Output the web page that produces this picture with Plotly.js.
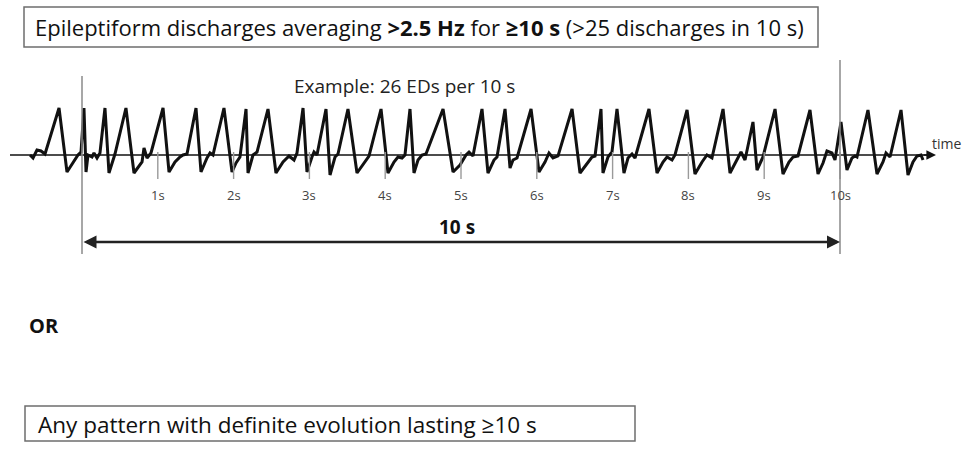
<!DOCTYPE html>
<html>
<head>
<meta charset="utf-8">
<script src="https://cdn.plot.ly/plotly-3.0.1.min.js"></script>
<style>html,body{margin:0;padding:0;background:#fff;}#chart{width:966px;height:452px;}</style>
</head>
<body>
<div id="chart"></div>
<script>
// ---- data (time in seconds, amplitude in arbitrary units above baseline) ----
const waveTime = [
  -0.686,-0.646,-0.594,-0.541,-0.488,-0.303,-0.198,-0.119,-0.053,-0.013,
  0.026,0.053,0.079,0.132,0.158,0.198,0.237,0.303,0.356,0.435,
  0.580,0.686,0.792,0.818,0.858,0.910,1.069,1.148,1.227,1.293,
  1.332,1.385,1.504,1.570,1.649,1.689,1.728,1.873,1.979,2.032,
  2.084,2.164,2.190,2.256,2.309,2.454,2.559,2.652,2.731,2.797,
  2.836,2.916,2.968,3.034,3.061,3.100,3.219,3.272,3.338,3.377,
  3.509,3.628,3.707,3.786,3.945,4.037,4.116,4.169,4.222,4.261,
  4.327,4.380,4.433,4.486,4.538,4.763,4.895,4.987,5.066,5.106,
  5.158,5.277,5.356,5.435,5.475,5.581,5.647,5.686,5.739,5.924,
  6.029,6.108,6.161,6.214,6.280,6.465,6.570,6.649,6.728,6.768,
  6.847,6.873,6.939,6.992,7.058,7.150,7.203,7.256,7.296,7.480,
  7.586,7.665,7.718,7.784,7.823,7.982,8.087,8.180,8.245,8.311,
  8.457,8.549,8.641,8.694,8.747,8.852,8.905,8.984,9.143,9.248,
  9.327,9.380,9.446,9.604,9.710,9.776,9.828,9.894,9.934,10.013,
  10.092,10.158,10.198,10.224,10.369,10.488,10.567,10.607,10.660,10.805,
  10.897,10.963,11.016,11.069,11.095
];
const waveAmp = [
  0,-3,5,4,1,47,-17,-8,0,3,
  47,-17,0,-2,2,-3,2,47,-18,1,
  47,-18,-7,7,-3,2,47,-17,-7,-2,
  0,1,47,-17,-3,2,0,47,-17,-8,
  -2,46,-18,0,3,46,-18,-7,-1,-5,
  2,47,-17,-2,3,0,46,-20,-2,1,
  46,-18,-10,-1,46,-18,-7,-2,-3,0,
  46,-18,-5,0,1,46,-17,-10,0,3,
  -1,46,-18,-5,-2,46,-13,-5,-3,46,
  -17,-7,2,-3,-1,46,-18,-10,-2,-1,
  46,-18,-2,3,46,-18,-3,1,-3,46,
  -18,-7,-2,-5,0,45,-19,-7,0,-3,
  46,-18,-5,3,-5,33,-15,-2,46,-19,
  -7,-2,-1,45,-19,-8,4,2,-5,33,
  -15,-3,-1,-2,45,-19,-7,2,-2,45,
  -20,-7,-1,0,-5
];
const tickSeconds = [1,2,3,4,5,6,7,8,9,10];
const tickLabels = ["1s","2s","3s","4s","5s","6s","7s","8s","9s","10s"];
const windowStart = 0;      // s
const windowEnd = 10;       // s
const windowLabel = "10 s";
const exampleText = "Example: 26 EDs per 10 s";
const criterion1 = "Epileptiform discharges averaging <b>>2.5 Hz</b> for <b>≥10 s</b> (>25 discharges in 10 s)";
const orText = "<b>OR</b>";
const criterion2 = "Any pattern with definite evolution lasting ≥10 s";
const axisLabel = "time";

// ---- layout helpers (pixel geometry of the figure) ----
const W = 966, H = 452;
const PX0 = 82, PXS = 75.8, BASE = 155;   // pixel of t=0, px per second, baseline pixel
const tx = px => (px - PX0) / PXS;          // pixel -> seconds
const ay = py => BASE - py;                 // pixel -> amplitude
const pxp = px => px / W, pyp = py => 1 - py / H;
const FONT = "'Open Sans', Lato, sans-serif";

const traces = [{
  x: waveTime, y: waveAmp, type: "scatter", mode: "lines",
  line: {color: "#111", width: 3}, hoverinfo: "skip"
}];

const shapes = [];
// time axis line
shapes.push({type:"line", xref:"x", yref:"y", x0:tx(10), x1:tx(934), y0:0, y1:0, line:{color:"#111", width:1.6}});
// tick marks
tickSeconds.forEach(s => shapes.push({type:"line", xref:"x", yref:"y", x0:s, x1:s, y0:3, y1:-24, line:{color:"#9a9a9a", width:1.4}}));
// window boundary lines
shapes.push({type:"line", xref:"x", yref:"y", x0:windowStart, x1:windowStart, y0:ay(76), y1:ay(254), line:{color:"#8a8a8a", width:1.5}});
shapes.push({type:"line", xref:"x", yref:"y", x0:windowEnd, x1:windowEnd, y0:ay(60), y1:ay(254), line:{color:"#8a8a8a", width:1.5}});
// text boxes
shapes.push({type:"rect", xref:"paper", yref:"paper", x0:pxp(24), x1:pxp(818), y0:pyp(47), y1:pyp(7), line:{color:"#6e6e6e", width:1.5}});
shapes.push({type:"rect", xref:"paper", yref:"paper", x0:pxp(25), x1:pxp(635), y0:pyp(441), y1:pyp(406), line:{color:"#6e6e6e", width:1.5}});

const annotations = [];
tickSeconds.forEach((s,i) => annotations.push({x:s, y:ay(195), xref:"x", yref:"y", text:tickLabels[i], showarrow:false, font:{family:FONT, size:13, color:"#444"}}));
// axis arrowhead
annotations.push({x:tx(936), y:0, ax:tx(922), ay:0, xref:"x", yref:"y", axref:"x", ayref:"y", text:"", showarrow:true, arrowhead:2, arrowsize:1.2, arrowwidth:1.6, arrowcolor:"#111"});
annotations.push({x:tx(946), y:ay(143), xref:"x", yref:"y", text:axisLabel, showarrow:false, font:{family:FONT, size:14, color:"#333"}});
// double arrow for 10 s window
annotations.push({x:windowEnd, y:ay(242), ax:windowStart, ay:ay(242), xref:"x", yref:"y", axref:"x", ayref:"y", text:"", showarrow:true, arrowhead:2, startarrowhead:2, arrowside:"end+start", arrowsize:1, startarrowsize:1, arrowwidth:2.6, arrowcolor:"#222"});
annotations.push({x:(windowStart+windowEnd)/2 - 0.05, y:ay(227), xref:"x", yref:"y", text:"<b>"+windowLabel+"</b>", showarrow:false, font:{family:FONT, size:19, color:"#111"}});
annotations.push({x:tx(404), y:ay(86), xref:"x", yref:"y", text:exampleText, showarrow:false, font:{family:FONT, size:19, color:"#222"}});
// criteria text
annotations.push({x:pxp(33), y:pyp(27), xref:"paper", yref:"paper", xanchor:"left", yanchor:"middle", text:criterion1, showarrow:false, font:{family:FONT, size:22, color:"#111"}});
annotations.push({x:pxp(27), y:pyp(325), xref:"paper", yref:"paper", xanchor:"left", yanchor:"middle", text:orText, showarrow:false, font:{family:FONT, size:20, color:"#111"}});
annotations.push({x:pxp(36), y:pyp(424), xref:"paper", yref:"paper", xanchor:"left", yanchor:"middle", text:criterion2, showarrow:false, font:{family:FONT, size:22.5, color:"#111"}});

const layout = {
  width: W, height: H,
  margin: {l:0, r:0, t:0, b:0},
  paper_bgcolor: "#fff", plot_bgcolor: "#fff",
  showlegend: false,
  xaxis: {range:[tx(0), tx(W)], visible:false, fixedrange:true},
  yaxis: {range:[ay(H), ay(0)], visible:false, fixedrange:true},
  shapes: shapes, annotations: annotations
};
Plotly.newPlot("chart", traces, layout, {staticPlot:true, displayModeBar:false});
</script>
</body>
</html>
